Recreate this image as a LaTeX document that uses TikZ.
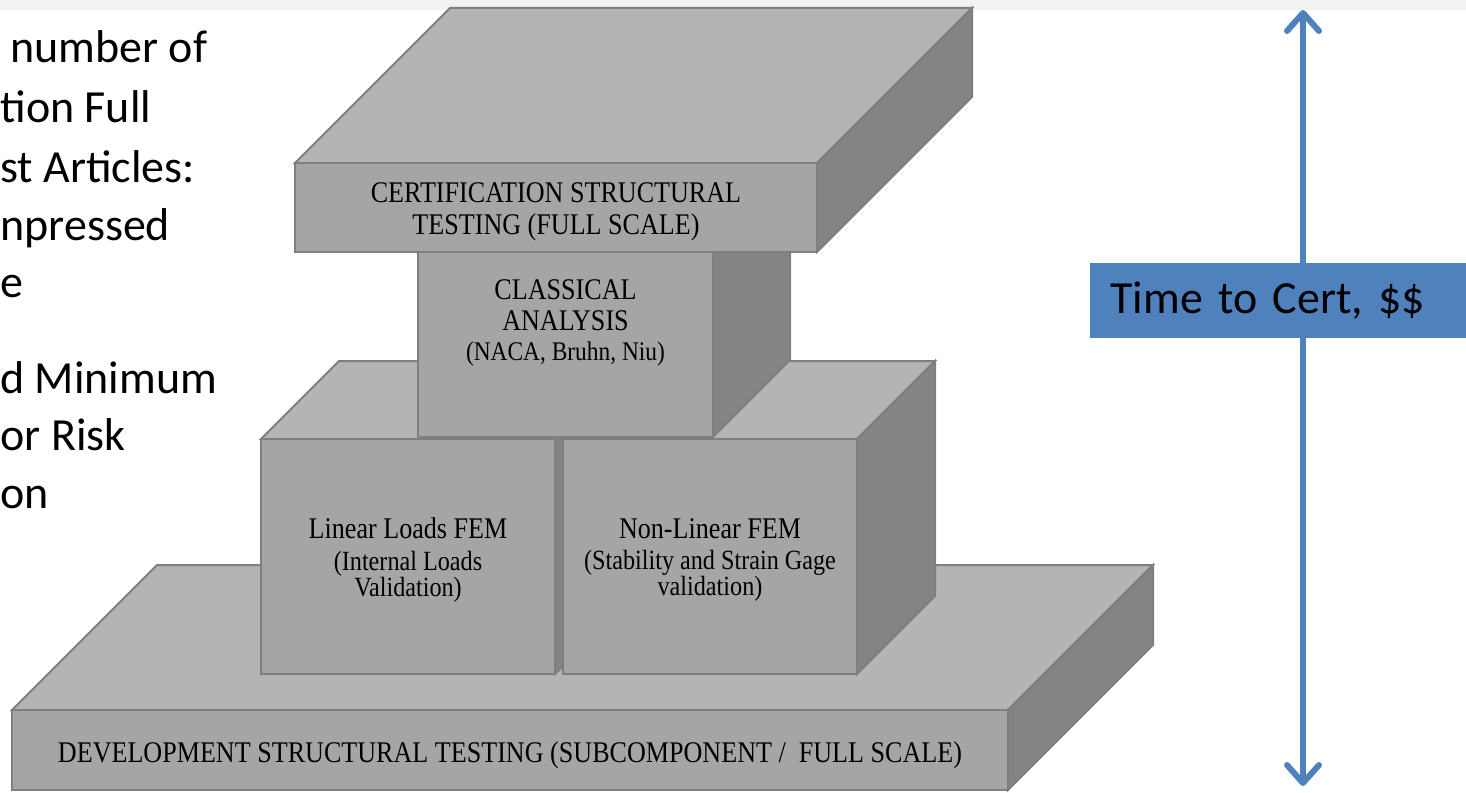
\documentclass[tikz,border=0pt]{standalone}
\usepackage{fontspec}
\setmainfont{Liberation Serif}[FakeStretch=0.87]
\newfontfamily\notefont{Carlito}
\usetikzlibrary{arrows.meta}

\definecolor{stripgray}{HTML}{F2F2F2}
\definecolor{edgegray}{HTML}{7F7F7F}
\definecolor{frontgray}{HTML}{A5A5A5}
\definecolor{topgray}{HTML}{B4B4B4}
\definecolor{sidegray}{HTML}{848484}
\definecolor{timeblue}{HTML}{4F81BD}

\newcommand{\blkfont}{\fontsize{15}{15.75}\selectfont}
\newcommand{\blksub}{\fontsize{13.9}{13}\selectfont}
\newcommand{\blkref}{\fontsize{13.45}{15}\selectfont}

% box with front face at (x,y), width, height, depth (going back at 45 deg)
\newcommand{\drawblock}[5]{%
  \filldraw[topface] (#1,#2) -- ++(#5,-#5) -- ++(#3,0) -- ++(-#5,#5) -- cycle;
  \filldraw[sideface] (#1+#3,#2) -- ++(#5,-#5) -- ++(0,#4) -- ++(-#5,#5) -- cycle;
  \filldraw[frontface] (#1,#2) rectangle ++(#3,#4);
}

\begin{document}
\begin{tikzpicture}[x=0.5pt, y=-0.5pt,
    face/.style={draw=edgegray, line width=1pt},
    frontface/.style={face, fill=frontgray},
    topface/.style={face, fill=topgray},
    sideface/.style={face, fill=sidegray},
    blocktext/.style={align=center, inner sep=0pt, font=\blkfont},
    note/.style={inner sep=0pt, font=\notefont\fontsize{23}{28}\selectfont},
    timearrow/.style={draw=timeblue, line width=3pt,
      >={Straight Barb[round,length=9pt,width=16pt]}, <->},
    timebox/.style={fill=timeblue, align=left, text width=168pt,
      minimum height=37.5pt, inner xsep=10pt, inner ysep=0pt,
      font=\notefont\fontsize{23}{28}\selectfont}]

  \useasboundingbox (0,0) rectangle (1466,792);
  \fill[stripgray] (0,0) rectangle (1466,10);

  % text running off the left side
  \foreach \xx/\yy/\txt in {10/63/number of, 0/123/tion Full, 0/182/st Articles:,
      0/240/npressed, 0/297/e, 0/393/d Minimum, 0/450/or Risk, 0/508/on}
    \node[note, anchor=base west] (note\yy) at (\xx,\yy) {\txt};

  % the stack, back to front
  \drawblock{12}{710}{996}{80}{145}
  \drawblock{261}{439}{294}{235}{78}
  \drawblock{563}{439}{294}{235}{78}
  \drawblock{418}{252}{295}{185}{77}
  \drawblock{295}{163}{522}{89}{155}

  \node[blocktext] (certtext) at (556,212) {CERTIFICATION STRUCTURAL\\TESTING (FULL SCALE)};
  \node[blocktext] (classtext) at (565.5,323) {CLASSICAL\\ANALYSIS\\[-0.75pt]{\blkref (NACA, Bruhn, Niu)}};
  \node[blocktext] (lintext) at (408,560) {Linear Loads FEM\\{\blksub (Internal Loads}\\[-2.75pt]{\blksub Validation)}};
  \node[blocktext] (nonlintext) at (710,560) {Non-Linear FEM\\{\blksub (Stability and Strain Gage}\\[-2.75pt]{\blksub validation)}};
  \node[blocktext] (devtext) at (510,755) {DEVELOPMENT STRUCTURAL TESTING (SUBCOMPONENT /\ \ FULL SCALE)};

  % time / cost scale
  \coordinate (arrtop) at (1303,10);
  \coordinate (arrbot) at (1303,786);
  \draw[timearrow] (arrtop) -- (arrbot);
  \node[timebox, anchor=west] (timebox) at (1090,300.5) {Time to Cert, \$\$};

\end{tikzpicture}
\end{document}
